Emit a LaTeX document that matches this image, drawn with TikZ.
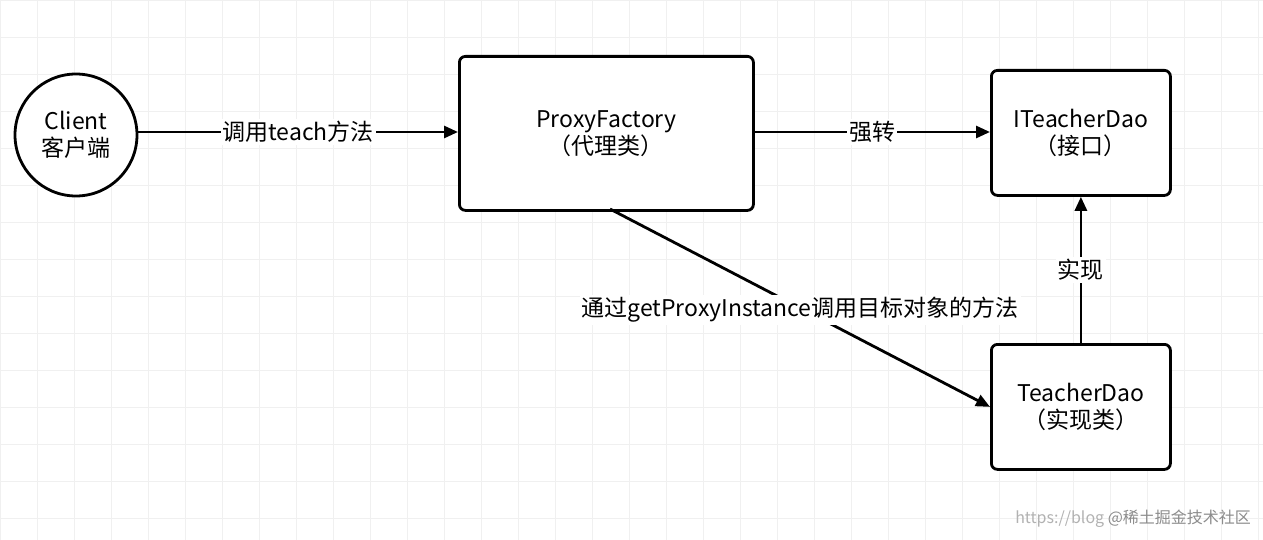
\documentclass[tikz,border=0pt]{standalone}
\usepackage{fontspec}
\setmainfont{Noto Sans CJK SC}
\usetikzlibrary{arrows.meta}
\begin{document}
\begin{tikzpicture}[x=0.5pt,y=-0.5pt,
  box/.style={draw,line width=1.4pt,rounded corners=3pt,fill=white,align=center,font=\fontsize{11.5}{13.5}\selectfont,anchor=north west,inner sep=0pt},
  conn/.style={line width=1.4pt,-{Triangle[length=7pt,width=6pt]}},
  lab/.style={fill=white,inner sep=1pt,font=\fontsize{11.5}{13.5}\selectfont}]
\useasboundingbox (0,0) rectangle (1263,540);
\fill[white] (0,0) rectangle (1263,540);
\foreach \x in {0,37,...,1263} \draw[gray!12,line width=0.4pt] (\x,0) -- (\x,540);
\foreach \y in {0,37,...,540} \draw[gray!12,line width=0.4pt] (0,\y) -- (1263,\y);
\node[draw,circle,line width=1.4pt,minimum size=61pt,fill=white,align=center,font=\fontsize{11.5}{13.5}\selectfont] (client) at (76,135) {Client\\客户端};
\node[box,minimum width=147pt,minimum height=77pt] (pf) at (458,55) {ProxyFactory\\（代理类）};
\node[box,minimum width=89.5pt,minimum height=62.5pt] (itd) at (990,69) {ITeacherDao\\（接口）};
\node[box,minimum width=89.5pt,minimum height=62.5pt] (td) at (990,343) {TeacherDao\\（实现类）};
\draw[conn] (client.east |- 0,132) -- node[lab]{调用teach方法} (pf.west |- 0,132);
\draw[conn] (pf.east |- 0,132) -- node[lab]{强转} (itd.west |- 0,132);
\draw[conn] (td.north) -- node[lab]{实现} (itd.south);
\draw[conn] (610,209) -- (td.west);
\node[lab] (l4) at (800,310) {通过getProxyInstance调用目标对象的方法};
\node[text=gray!60,font=\fontsize{8}{10}\selectfont,anchor=south east] (wm) at (1258,535) {https://blog \textcolor{gray!90}{@稀土掘金技术社区}};
\end{tikzpicture}
\end{document}
